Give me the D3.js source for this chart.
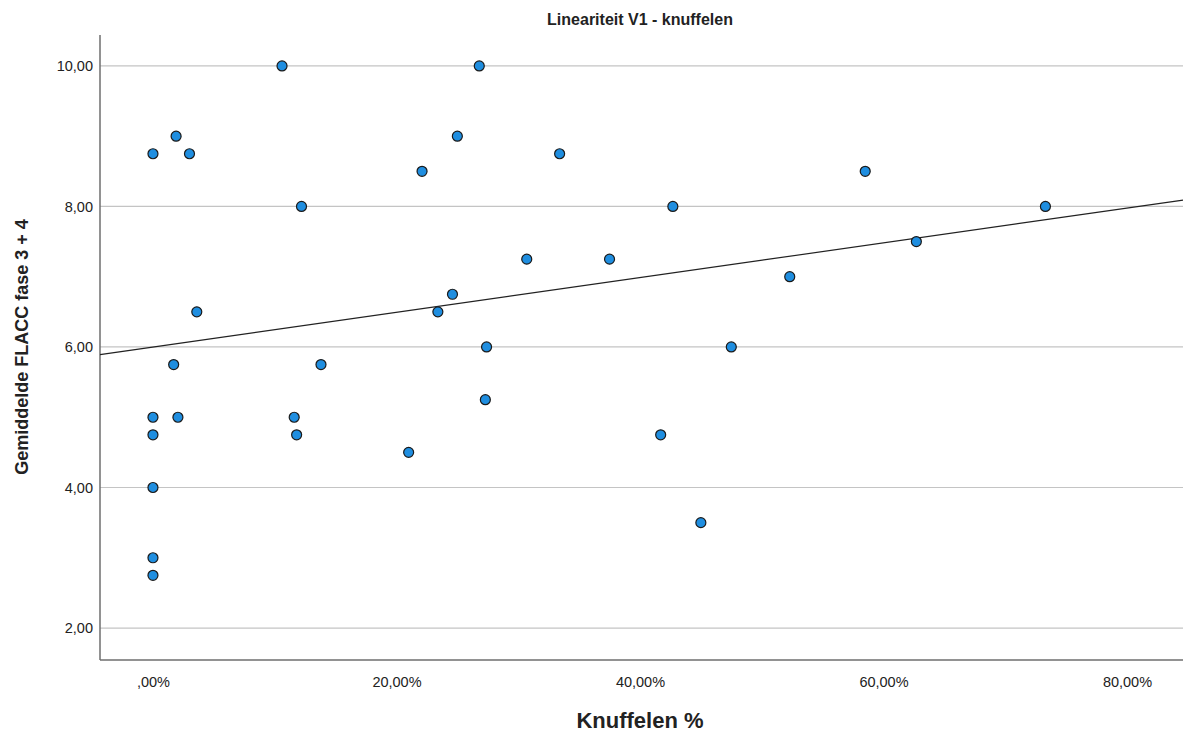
<!DOCTYPE html>
<html>
<head>
<meta charset="utf-8">
<script src="https://cdn.jsdelivr.net/npm/d3@7"></script>
<style>
  body { margin: 0; background: #fff; }
  svg { font-family: "Liberation Sans", Arial, sans-serif; }
</style>
</head>
<body>
<svg id="chart"></svg>
<script>
var w = 1188;
var h = 735;

// knuffelen % (x) and gemiddelde FLACC (y)
var knuffelen = [0, 1.9, 3.0, 3.6, 1.7, 0, 2.05, 0, 0, 0, 0,
  10.6, 12.2, 13.8, 11.6, 11.8, 21.0, 22.1, 25.0, 26.8, 24.6, 23.4, 27.4, 27.3,
  30.7, 33.4, 37.5, 42.7, 41.7, 45.0, 47.5, 52.3, 58.5, 62.7, 73.3];
var flacc = [8.75, 9.0, 8.75, 6.5, 5.75, 5.0, 5.0, 4.75, 4.0, 3.0, 2.75,
  10.0, 8.0, 5.75, 5.0, 4.75, 4.5, 8.5, 9.0, 10.0, 6.75, 6.5, 6.0, 5.25,
  7.25, 8.75, 7.25, 8.0, 4.75, 3.5, 6.0, 7.0, 8.5, 7.5, 8.0];

var xTicks = [0, 20, 40, 60, 80];
var yTicks = [2, 4, 6, 8, 10];

// fitted line, ends
var fitX = [-4.35, 84.6];
var fitY = [5.89, 8.09];

var mLeft = 100, mRight = 1183, mTop = 35, mBottom = 660;

var x = d3.scaleLinear().domain([-4.35, 84.6]).range([mLeft, mRight]);
var y = d3.scaleLinear().domain([1.545, 10.44]).range([mBottom, mTop]);

var fmtY = function(d) { return d3.format(".2f")(d).replace(".", ","); };
var fmtX = function(d) { return (d === 0 ? "" : d) + ",00%"; };

var svg = d3.select("#chart").attr("width", w).attr("height", h);

// grid
svg.append("g").selectAll("line").data(yTicks).enter().append("line")
  .attr("x1", mLeft).attr("x2", mRight)
  .attr("y1", function(d) { return y(d); }).attr("y2", function(d) { return y(d); })
  .attr("stroke", "#c4c4c4").attr("stroke-width", 1.2);

// axes
var yAxis = d3.axisLeft(y).tickValues(yTicks).tickFormat(fmtY).tickSize(0).tickPadding(7);
var gY = svg.append("g").attr("transform", "translate(" + mLeft + ",0)").call(yAxis);
gY.select(".domain").attr("stroke", "#6e6e6e").attr("stroke-width", 1.5).attr("d", "M0," + mTop + "V" + mBottom);
gY.selectAll("text").attr("font-size", 14.5).attr("fill", "#222");

var xAxis = d3.axisBottom(x).tickValues(xTicks).tickFormat(fmtX).tickSize(0).tickPadding(17);
var gX = svg.append("g").attr("transform", "translate(0," + mBottom + ")").call(xAxis);
gX.select(".domain").attr("stroke", "#6e6e6e").attr("stroke-width", 1.5).attr("d", "M" + mLeft + ",0H" + mRight);
gX.selectAll("text").attr("font-size", 14.5).attr("fill", "#222");

// fit line
var line = d3.line().x(function(d) { return x(d[0]); }).y(function(d) { return y(d[1]); });
svg.append("path").attr("d", line([[fitX[0], fitY[0]], [fitX[1], fitY[1]]]))
  .attr("stroke", "#222").attr("stroke-width", 1.2).attr("fill", "none");

// points
svg.append("g").selectAll("circle").data(knuffelen).enter().append("circle")
  .attr("cx", function(d) { return x(d); })
  .attr("cy", function(d, i) { return y(flacc[i]); })
  .attr("r", 5)
  .attr("fill", "#1f8ee0").attr("stroke", "#1a1a1a").attr("stroke-width", 1.2);

// titles
svg.append("text").attr("x", 640).attr("y", 25).attr("text-anchor", "middle")
  .attr("font-size", 16).attr("font-weight", "bold").attr("fill", "#222")
  .text("Lineariteit V1 - knuffelen");
svg.append("text").attr("x", 640).attr("y", 728).attr("text-anchor", "middle")
  .attr("font-size", 22).attr("font-weight", "bold").attr("fill", "#222")
  .text("Knuffelen %");
svg.append("text").attr("transform", "translate(28,347) rotate(-90)").attr("text-anchor", "middle")
  .attr("font-size", 18).attr("font-weight", "bold").attr("fill", "#222")
  .text("Gemiddelde FLACC fase 3 + 4");
</script>
</body>
</html>
